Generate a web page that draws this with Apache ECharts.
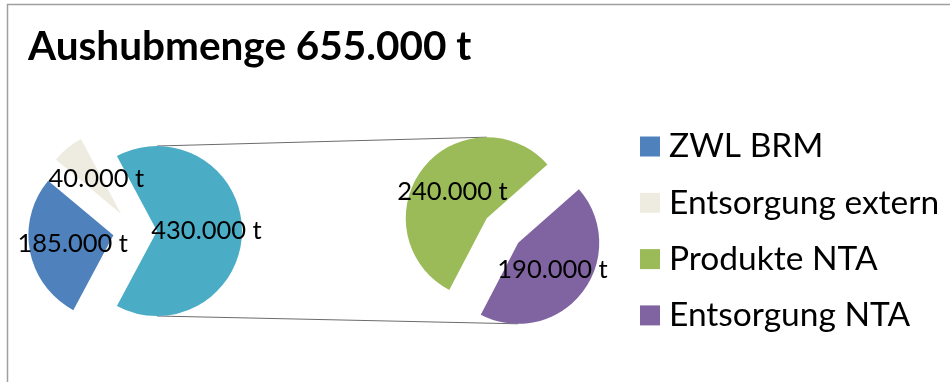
<!DOCTYPE html>
<html><head><meta charset="utf-8">
<script src="https://cdn.jsdelivr.net/npm/echarts@6/dist/echarts.min.js"></script>
<style>html,body{margin:0;padding:0;background:#fff}#c{width:950px;height:382px}</style>
</head><body><div id="c"></div>
<script>
// ---- data ----
const titleText = 'Aushubmenge 655.000 t';
const mainCategories = ['ZWL BRM', 'Entsorgung extern', 'NTA'];
const mainValues = [185000, 40000, 430000];
const subCategories = ['Entsorgung NTA', 'Produkte NTA'];
const subValues = [190000, 240000];
const legendLabels = ['ZWL BRM', 'Entsorgung extern', 'Produkte NTA', 'Entsorgung NTA'];

// ---- style ----
const mainColors = ['#4F81BD', '#EEECE1', '#4BACC6'];
const subColors = ['#8064A2', '#9BBB59'];
const FONT = 'Lato';
const main = {cx: 135, cy: 231, r: 85, off: 22};
const sub = {cx: 502.5, cy: 230.5, r: 81, off: 20, start: 41.5};

function fmt(v) { return String(v).replace(/\B(?=(\d{3})+(?!\d))/g, '.') + ' t'; }
const sum = a => a.reduce((s, v) => s + v, 0);
const mainTotal = sum(mainValues);
const otherIdx = mainValues.length - 1;
const mainStart = -(mainValues[otherIdx] / mainTotal * 360) / 2;

function midAngle(values, start, idx) {
  const tot = sum(values);
  let cum = 0;
  for (let i = 0; i < idx; i++) cum += values[i];
  const s = start - cum / tot * 360;
  const e = s - values[idx] / tot * 360;
  return (s + e) / 2;
}
function shiftedCenter(p, mid) {
  const a = mid * Math.PI / 180;
  return [p.cx + p.off * Math.cos(a), p.cy - p.off * Math.sin(a)];
}
const mOther = shiftedCenter(main, midAngle(mainValues, mainStart, otherIdx));
const sGreen = shiftedCenter(sub, midAngle(subValues, sub.start, 1));
const sPurple = shiftedCenter(sub, midAngle(subValues, sub.start, 0));

function labelStyle(pad) {
  return {show: true, position: 'inside', formatter: p => fmt(p.value), padding: pad,
    color: '#000', fontFamily: FONT, fontSize: 25.5};
}

const chart = echarts.init(document.getElementById('c'), null, {renderer: 'canvas'});
chart.setOption({
  animation: false,
  title: {text: titleText, left: 28, top: 26, padding: 0,
    textStyle: {fontFamily: FONT, fontWeight: 'bold', fontSize: 40.5, color: '#000'}},
  legend: {data: legendLabels, orient: 'vertical', left: 640, top: 129.5, height: 300, padding: 0,
    itemWidth: 20, itemHeight: 20, itemGap: 22.3, icon: 'rect', selectedMode: false,
    textStyle: {fontFamily: FONT, fontSize: 33.5, color: '#000', padding: [0, 0, 0, 4]}},
  graphic: [
    {type: 'rect', shape: {x: 7.5, y: 4.5, width: 2000, height: 2000},
      style: {fill: 'none', stroke: '#9f9f9f', lineWidth: 1.5}, silent: true},
    {type: 'line', shape: {x1: mOther[0], y1: mOther[1] - main.r, x2: sGreen[0], y2: sGreen[1] - sub.r},
      style: {stroke: '#6b6b6b', lineWidth: 1}, z: 0},
    {type: 'line', shape: {x1: mOther[0], y1: mOther[1] + main.r, x2: sPurple[0], y2: sPurple[1] + sub.r},
      style: {stroke: '#6b6b6b', lineWidth: 1}, z: 0}
  ],
  series: [
    {type: 'pie', center: [main.cx, main.cy], radius: main.r, startAngle: mainStart, clockwise: true,
      selectedMode: 'multiple', selectedOffset: main.off, avoidLabelOverlap: false, minShowLabelAngle: 0,
      labelLayout: {hideOverlap: false},
      label: labelStyle([14, 0, 0, 8]), labelLine: {show: false}, emphasis: {disabled: true},
      data: mainValues.map((v, i) => ({name: mainCategories[i], value: v, selected: true,
        itemStyle: {color: mainColors[i]}}))},
    {type: 'pie', center: [sub.cx, sub.cy], radius: sub.r, startAngle: sub.start, clockwise: true,
      selectedMode: 'multiple', selectedOffset: sub.off, avoidLabelOverlap: false, minShowLabelAngle: 0,
      labelLayout: {hideOverlap: false},
      label: labelStyle([14, 0, 0, 0]), labelLine: {show: false}, emphasis: {disabled: true},
      data: subValues.map((v, i) => ({name: subCategories[i], value: v, selected: true,
        itemStyle: {color: subColors[i]}}))}
  ]
});
</script></body></html>
